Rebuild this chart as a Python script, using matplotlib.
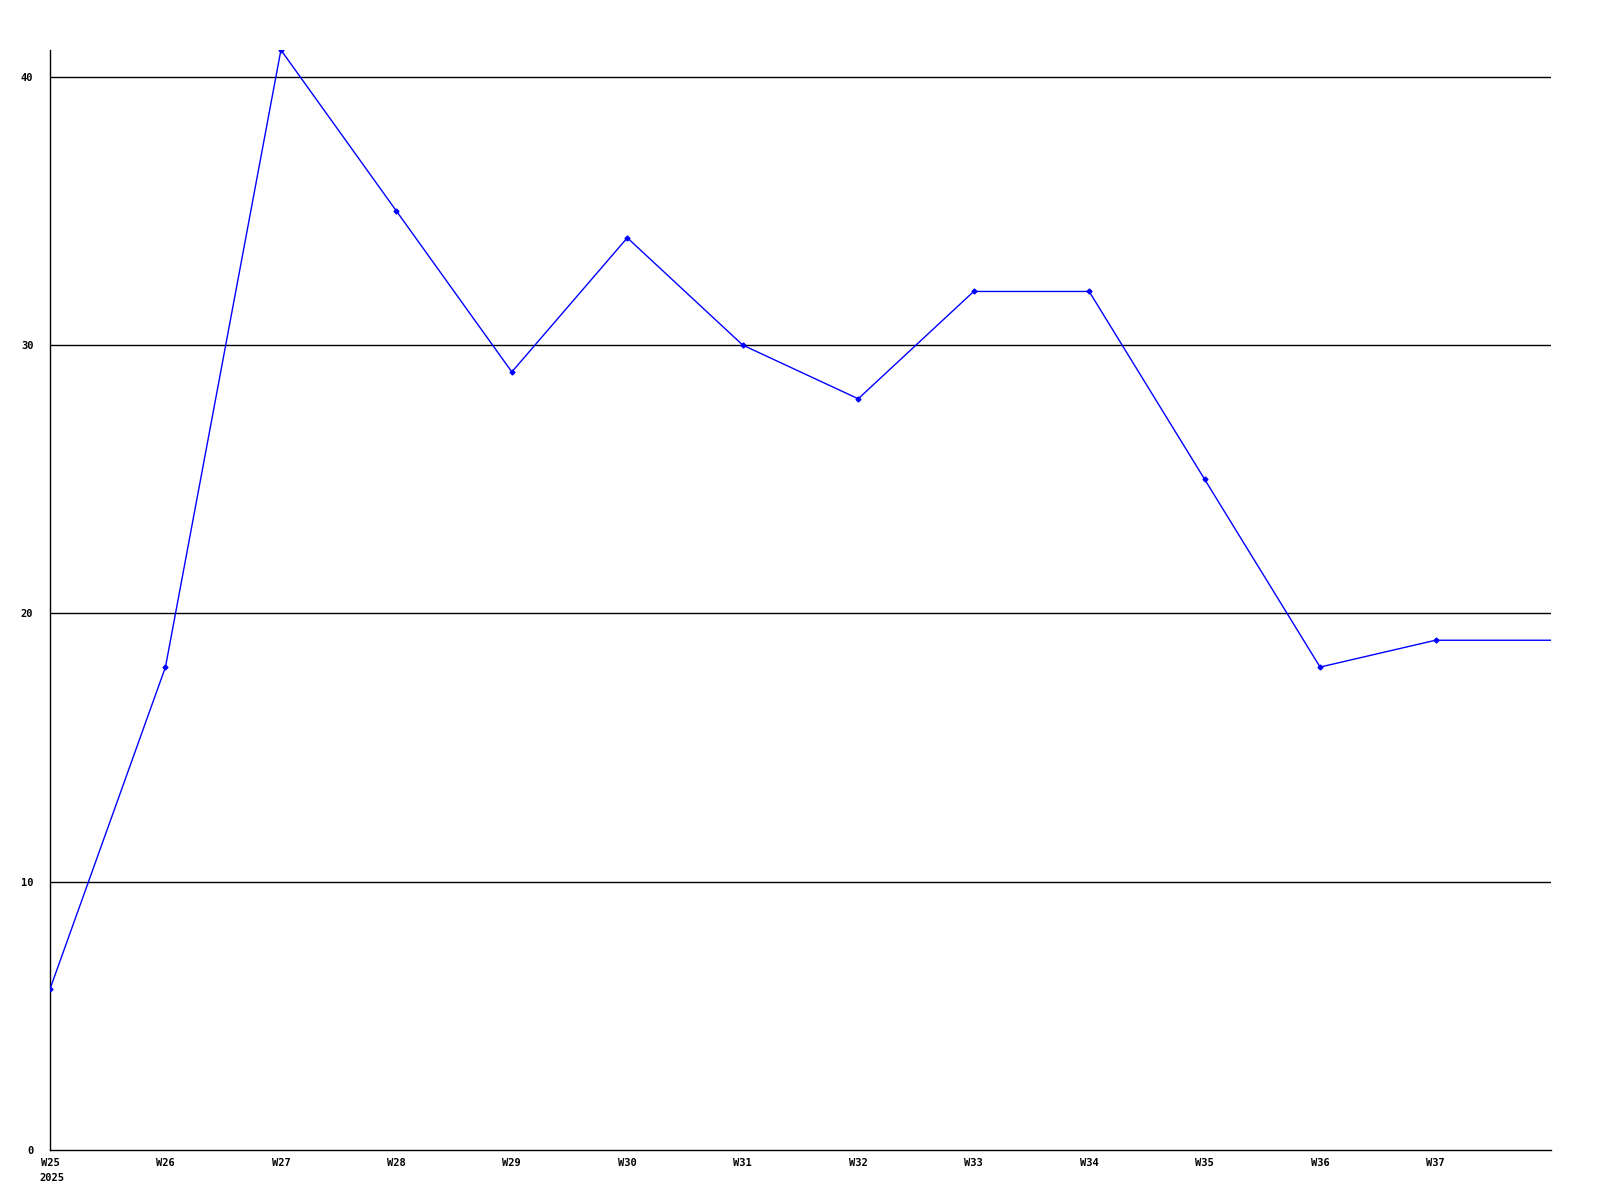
import matplotlib
matplotlib.use("Agg")
from matplotlib import pyplot as plt

weeks = ["W25", "W26", "W27", "W28", "W29", "W30", "W31",
         "W32", "W33", "W34", "W35", "W36", "W37", "W38"]
values = [6, 18, 41, 35, 29, 34, 30, 28, 32, 32, 25, 18, 19, 19]
yticks = [0, 10, 20, 30, 40]
year = "2025"

plt.rcParams['font.family'] = ['DejaVu Sans Mono']

fig = plt.figure(figsize=(16, 12), dpi=100)
ax = fig.add_axes([50/1600, 50/1200, (1551-50)/1600, 1100/1200])

x = list(range(len(weeks)))
for y in yticks[1:]:
    ax.axhline(y, color='black', linewidth=1, zorder=1)

ax.plot(x, values, color='#0000ff', linewidth=1, marker='D', markersize=2.5,
        markevery=list(range(len(weeks) - 1)), zorder=3)

ax.set_xlim(0, 13)
ax.set_ylim(0, 41)

ax.set_xticks(x[:-1])
ax.set_xticklabels(weeks[:-1], fontsize=7.5, fontweight='bold', va='top')
# year under the first week, left-aligned with it
ax.annotate(year, xy=(0, 0), xycoords=('data', 'axes fraction'),
            xytext=(-7.5, -16.5), textcoords='offset points',
            ha='left', va='top', fontsize=7.5, fontweight='bold')

ax.set_yticks(yticks)
ax.set_yticklabels([str(v) for v in yticks], fontsize=7.5, fontweight='bold')
ax.tick_params(axis='both', length=0)
ax.tick_params(axis='y', pad=12)
ax.tick_params(axis='x', pad=6)

ax.spines['top'].set_visible(False)
ax.spines['right'].set_visible(False)
ax.spines['left'].set_linewidth(1)
ax.spines['bottom'].set_linewidth(1)

fig.savefig("out.png", dpi=100)
